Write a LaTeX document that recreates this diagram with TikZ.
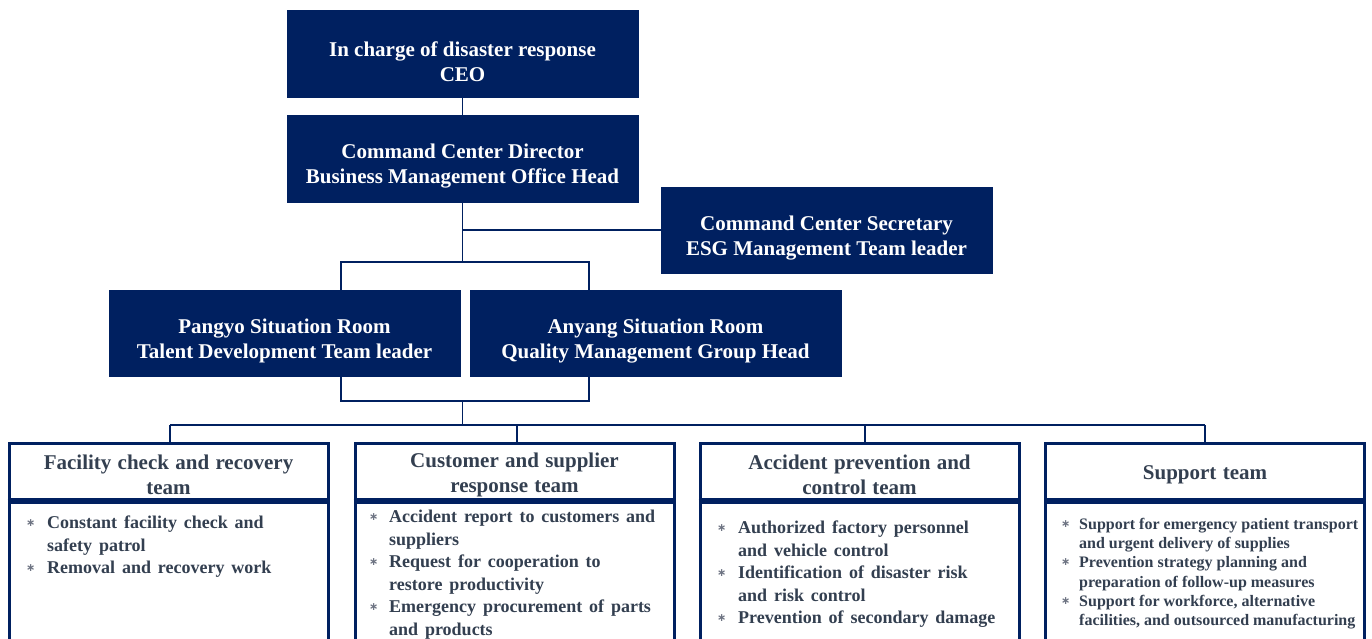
\documentclass[tikz,border=0pt]{standalone}
\usepackage{fontspec}
\setmainfont{Liberation Serif}
\newfontfamily\symfont{DejaVu Sans}
\definecolor{navy}{HTML}{002060}
\definecolor{slate}{HTML}{333F50}
\definecolor{bulletgray}{HTML}{6E7483}
\newcommand{\bul}[1]{\makebox[#1][l]{\raisebox{0.12em}{\textcolor{bulletgray}{\symfont\fontsize{11}{11}\selectfont ∗}}}}
\newcommand{\spacing}[1]{\spaceskip=#1\relax}
\begin{document}
\begin{tikzpicture}[x=1pt,y=-1pt,
  headbox/.style={fill=navy,draw=navy,inner sep=0pt},
  headtext/.style={inner sep=0pt,align=center,text=white,
    font=\bfseries\fontsize{21}{25}\selectfont},
  teamhead/.style={draw=navy,line width=3pt,fill=white,inner sep=0pt,
    minimum width=319pt,minimum height=56pt},
  teamtext/.style={inner sep=0pt,align=center,text=slate,
    font=\bfseries\fontsize{21}{25}\selectfont\spacing{0.3em}},
  teambody/.style={draw=navy,line width=3pt,fill=white,inner sep=0pt,
    minimum width=319pt,minimum height=160pt,anchor=north},
  bodytext/.style={anchor=north west,inner sep=0pt,align=left,text=slate},
  link/.style={draw=navy,line width=1.5pt}]
\useasboundingbox (0,0) rectangle (1372,638);
\clip (0,0) rectangle (1372,638);

% upper command chain
\node[headbox,minimum width=351pt,minimum height=87pt] (ceo) at (462.5,53.5) {};
\node[headbox,minimum width=351pt,minimum height=87pt] (dir) at (462.5,158.5) {};
\node[headbox,minimum width=331pt,minimum height=86pt] (sec) at (826.5,230) {};
\node[headbox,minimum width=351pt,minimum height=86pt] (pan) at (284.5,333) {};
\node[headbox,minimum width=371pt,minimum height=86pt] (ana) at (655.5,333) {};
\node[headtext] (ceo-t) at ([yshift=-8pt]ceo.center)
  {In charge of disaster response\\CEO};
\node[headtext] (dir-t) at ([yshift=-8pt]dir.center)
  {Command Center Director\\Business Management Office Head};
\node[headtext] (sec-t) at ([yshift=-8pt]sec.center)
  {Command Center Secretary\\ESG Management Team leader};
\node[headtext] (pan-t) at ([yshift=-8pt]pan.center)
  {Pangyo Situation Room\\Talent Development Team leader};
\node[headtext] (ana-t) at ([yshift=-8pt]ana.center)
  {Anyang Situation Room\\Quality Management Group Head};

% team headers and bodies
\node[teamhead] (t1h) at (168.5,471) {};
\node[teamhead] (t2h) at (514.5,471) {};
\node[teamhead] (t3h) at (859.5,471) {};
\node[teamhead] (t4h) at (1205,471) {};
\node[teambody] (t1b) at (t1h.south) {};
\node[teambody] (t2b) at (t2h.south) {};
\node[teambody] (t3b) at (t3h.south) {};
\node[teambody] (t4b) at (t4h.south) {};
\draw[navy,line width=4pt] (t1h.south west) -- (t1h.south east);
\draw[navy,line width=4pt] (t2h.south west) -- (t2h.south east);
\draw[navy,line width=4pt] (t3h.south west) -- (t3h.south east);
\draw[navy,line width=4pt] (t4h.south west) -- (t4h.south east);
\node[teamtext] (t1t) at ([yshift=-4pt]t1h.center) {Facility check and recovery\\team};
\node[teamtext] (t2t) at ([yshift=-4pt]t2h.center) {Customer and supplier\\response team};
\node[teamtext] (t3t) at ([yshift=-4pt]t3h.center) {Accident prevention and\\control team};
\node[teamtext] (t4t) at ([yshift=-4pt]t4h.center) {Support team};

% junction points
\coordinate (jsec) at (462.5,230);
\coordinate (jtop) at (462.5,262);
\coordinate (pl) at (341,262);
\coordinate (pr) at (589,262);
\coordinate (ql) at (341,401);
\coordinate (qr) at (589,401);
\coordinate (jmid) at (462.5,401);
\coordinate (jbar) at (462.5,425);
\coordinate (b1) at (170,425);
\coordinate (b2) at (517,425);
\coordinate (b3) at (865,425);
\coordinate (b4) at (1205,425);

% connectors
\draw[link] (ceo.south) -- (dir.north);
\draw[link] (dir.south) -- (jtop);
\draw[link] (jsec) -- (sec.west);
\draw[link] (pan.north -| pl) -- (pl) -- (pr) -- (ana.north -| pr);
\draw[link] (pan.south -| ql) -- (ql) -- (qr) -- (ana.south -| qr);
\draw[link] (jmid) -- (jbar);
\draw[link] (b1) -- (b4);
\draw[link] (b1) -- (t1h.north -| b1);
\draw[link] (b2) -- (t2h.north -| b2);
\draw[link] (b3) -- (t3h.north -| b3);
\draw[link] (b4) -- (t4h.north -| b4);

% duties
\tikzset{bigduty/.style={bodytext,font=\bfseries\fontsize{18}{22.5}\selectfont\spacing{0.38em}}}
\node[bigduty] (d1) at (26,516)
  {\bul{21pt}Constant facility check and\\
   \hspace*{21pt}safety patrol\\
   \bul{21pt}Removal and recovery work};
\node[bigduty] (d2) at (369,510)
  {\bul{20pt}Accident report to customers and\\
   \hspace*{20pt}suppliers\\
   \bul{20pt}Request for cooperation to\\
   \hspace*{20pt}restore productivity\\
   \bul{20pt}Emergency procurement of parts\\
   \hspace*{20pt}and products};
\node[bigduty] (d3) at (717,521)
  {\bul{21pt}Authorized factory personnel\\
   \hspace*{21pt}and vehicle control\\
   \bul{21pt}Identification of disaster risk\\
   \hspace*{21pt}and risk control\\
   \bul{21pt}Prevention of secondary damage};
\node[bodytext,font=\bfseries\fontsize{16}{19.2}\selectfont] (d4) at (1061,518)
  {\bul{18pt}Support for emergency patient transport\\
   \hspace*{18pt}and urgent delivery of supplies\\
   \bul{18pt}Prevention strategy planning and\\
   \hspace*{18pt}preparation of follow-up measures\\
   \bul{18pt}Support for workforce, alternative\\
   \hspace*{18pt}facilities, and outsourced manufacturing};
\end{tikzpicture}
\end{document}
